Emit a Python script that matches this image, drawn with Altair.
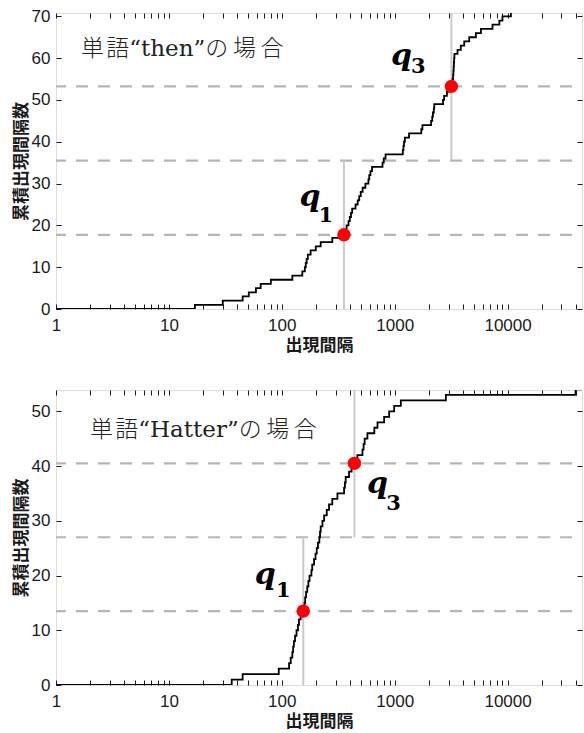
import altair as alt
import pandas as pd

# x range of both panels (log scale)
X_MIN = 1
X_MAX = 45600

# sorted occurrence gaps of the word "then" (one entry per gap)
then_gaps = [17, 30, 45, 51, 59, 65, 80, 124, 152, 160, 163, 166, 170, 180, 200,
             221, 280, 358, 365, 375, 390, 400, 410, 420, 450, 470, 485, 500, 520,
             550, 585, 595, 610, 630, 780, 800, 830, 1180, 1195, 1210, 1230, 1340,
             1720, 1760, 2100, 2150, 2180, 2220, 2240, 2680, 2740, 2900, 3050, 3200,
             3250, 3290, 3310, 3330, 3345, 3360, 3380, 3600, 3850, 4130, 4570, 5240,
             5800, 7350, 8450, 9000, 10700]
# quartile gaps q1, q3 and quartile counts (N/4, N/2, 3N/4)
then_q = [355, 3180]
then_levels = [17.75, 35.5, 53.25]

# sorted occurrence gaps of the word "Hatter"
hatter_gaps = [36, 45, 94, 116, 120, 124, 126, 128, 131, 135, 139, 142, 147, 157,
               159, 161, 164, 168, 172, 176, 183, 186, 193, 199, 204, 209, 215, 218,
               221, 229, 237, 250, 262, 280, 311, 356, 362, 368, 394, 415, 442, 467,
               518, 530, 542, 573, 660, 704, 806, 893, 989, 1133, 2838, 40000]
hatter_q = [155, 440]
hatter_levels = [13.5, 27, 40.5]

x_major = [1, 10, 100, 1000, 10000]
x_ticks = [m * 10 ** e for e in range(0, 5) for m in range(1, 10) if m * 10 ** e <= X_MAX]

W = 526
LABEL_FONT = "Liberation Sans"
CJK_FONT = "Noto Sans CJK JP"
Q_FONT = "DejaVu Serif"
INK = "#1a1a1a"


def panel(gaps, qx, levels, y_top, y_ticks, height, caption, cap_xy, q_offsets):
    n = len(gaps)
    steps = pd.DataFrame({
        "gap": [X_MIN] + gaps + [X_MAX],
        "count": [0] + list(range(1, n + 1)) + [n],
    })
    xs = alt.Scale(type="log", domain=[X_MIN, X_MAX], nice=False)
    ys = alt.Scale(domain=[0, y_top], nice=False, zero=True)

    hl = alt.Chart(pd.DataFrame({"lvl": levels})).mark_rule(
        color="#b5b5b5", strokeWidth=2.2, strokeDash=[12, 10], strokeDashOffset=12
    ).encode(y=alt.Y("lvl:Q", scale=ys, axis=None))

    vl = alt.Chart(pd.DataFrame({
        "q": qx,
        "lo": [0, levels[1]],
        "hi": [levels[1], y_top],
    })).mark_rule(color="#c9c9c9", strokeWidth=2).encode(
        x=alt.X("q:Q", scale=xs, axis=None),
        y=alt.Y("lo:Q", scale=ys, axis=None),
        y2="hi:Q",
    )

    line = alt.Chart(steps).mark_line(
        interpolate="step-after", color="black", strokeWidth=1.8, clip=True
    ).encode(
        x=alt.X("gap:Q", scale=xs, axis=alt.Axis(
            orient="bottom", values=x_ticks,
            labelExpr="indexof([1, 10, 100, 1000, 10000], datum.value) >= 0 ? format(datum.value, 'd') : ''",
            tickSize=5, offset=-5, domain=False, grid=False, tickColor=INK,
            labelPadding=8, labelFont=LABEL_FONT, labelFontSize=17, labelColor=INK,
            labelFlush=False, labelOverlap=False,
            title="出現間隔", titleFont=CJK_FONT, titleFontSize=17,
            titleFontWeight="bold", titleColor=INK, titlePadding=4)),
        y=alt.Y("count:Q", scale=ys, axis=alt.Axis(
            orient="left", values=y_ticks, tickSize=5, offset=-5, domain=False,
            grid=False, tickColor=INK, labelPadding=6, labelFont=LABEL_FONT,
            labelFontSize=17, labelColor=INK,
            title="累積出現間隔数", titleFont=CJK_FONT, titleFontSize=17,
            titleFontWeight="bold", titleColor=INK, titlePadding=1)),
    )

    qdf = pd.DataFrame({"q": qx, "lvl": [levels[0], levels[2]]})
    pts = alt.Chart(qdf).mark_point(
        filled=True, color="#ff0000", size=180, opacity=1, shape="circle"
    ).encode(
        x=alt.X("q:Q", scale=xs, axis=alt.Axis(
            orient="top", values=x_ticks, labels=False, tickSize=5, offset=-5,
            domain=False, grid=False, tickColor=INK, title=None)),
        y=alt.Y("lvl:Q", scale=ys, axis=alt.Axis(
            orient="right", values=y_ticks, labels=False, tickSize=5, offset=-5,
            domain=False, grid=False, tickColor=INK, title=None)),
    )

    cap = alt.Chart(pd.DataFrame({"t": [caption]})).mark_text(
        align="left", baseline="middle", font="DejaVu Serif, " + CJK_FONT,
        fontSize=23, fontWeight=300, color="#222222"
    ).encode(x=alt.value(cap_xy[0]), y=alt.value(cap_xy[1]), text="t:N")

    labels = []
    for i, sub in enumerate(["1", "3"]):
        (dxq, dyq, dxs, dys) = q_offsets[i]
        one = alt.Chart(pd.DataFrame({"q": [qx[i]], "lvl": [levels[2 * i]]}))
        enc = dict(x=alt.X("q:Q", scale=xs, axis=None),
                   y=alt.Y("lvl:Q", scale=ys, axis=None))
        labels.append(one.mark_text(
            text="q", font=Q_FONT, fontStyle="italic", fontWeight="bold",
            fontSize=30, align="center", baseline="alphabetic", dx=dxq, dy=dyq,
            color="black").encode(**enc))
        labels.append(one.mark_text(
            text=sub, font=Q_FONT, fontWeight="bold", fontSize=21,
            align="center", baseline="alphabetic", dx=dxs, dy=dys,
            color="black").encode(**enc))

    return alt.layer(hl, vl, line, pts, cap, *labels).resolve_axis(
        x="independent", y="independent"
    ).properties(width=W, height=height)


top = panel(then_gaps, then_q, then_levels, 70.8, [0, 10, 20, 30, 40, 50, 60, 70],
            296, "単\u200a語“then”の\u2009場\u2009合", (25, 36),
            [(-34, -29, -18, -13), (-50, -21, -33, -13)])
bottom = panel(hatter_gaps, hatter_q, hatter_levels, 53.9, [0, 10, 20, 30, 40, 50],
               295, "単\u200a語“Hatter”の\u2009場\u2009合", (34, 40),
               [(-38, -27, -20, -14), (23, 30, 39, 47)])

chart = alt.vconcat(top, bottom, spacing=34).properties(
    padding={"left": 11, "top": 6, "right": 0, "bottom": 0}
).configure_view(stroke="#222222", strokeWidth=1.2).configure(background="white")

chart.save("out.html", embed_options={"renderer": "svg", "actions": False})
